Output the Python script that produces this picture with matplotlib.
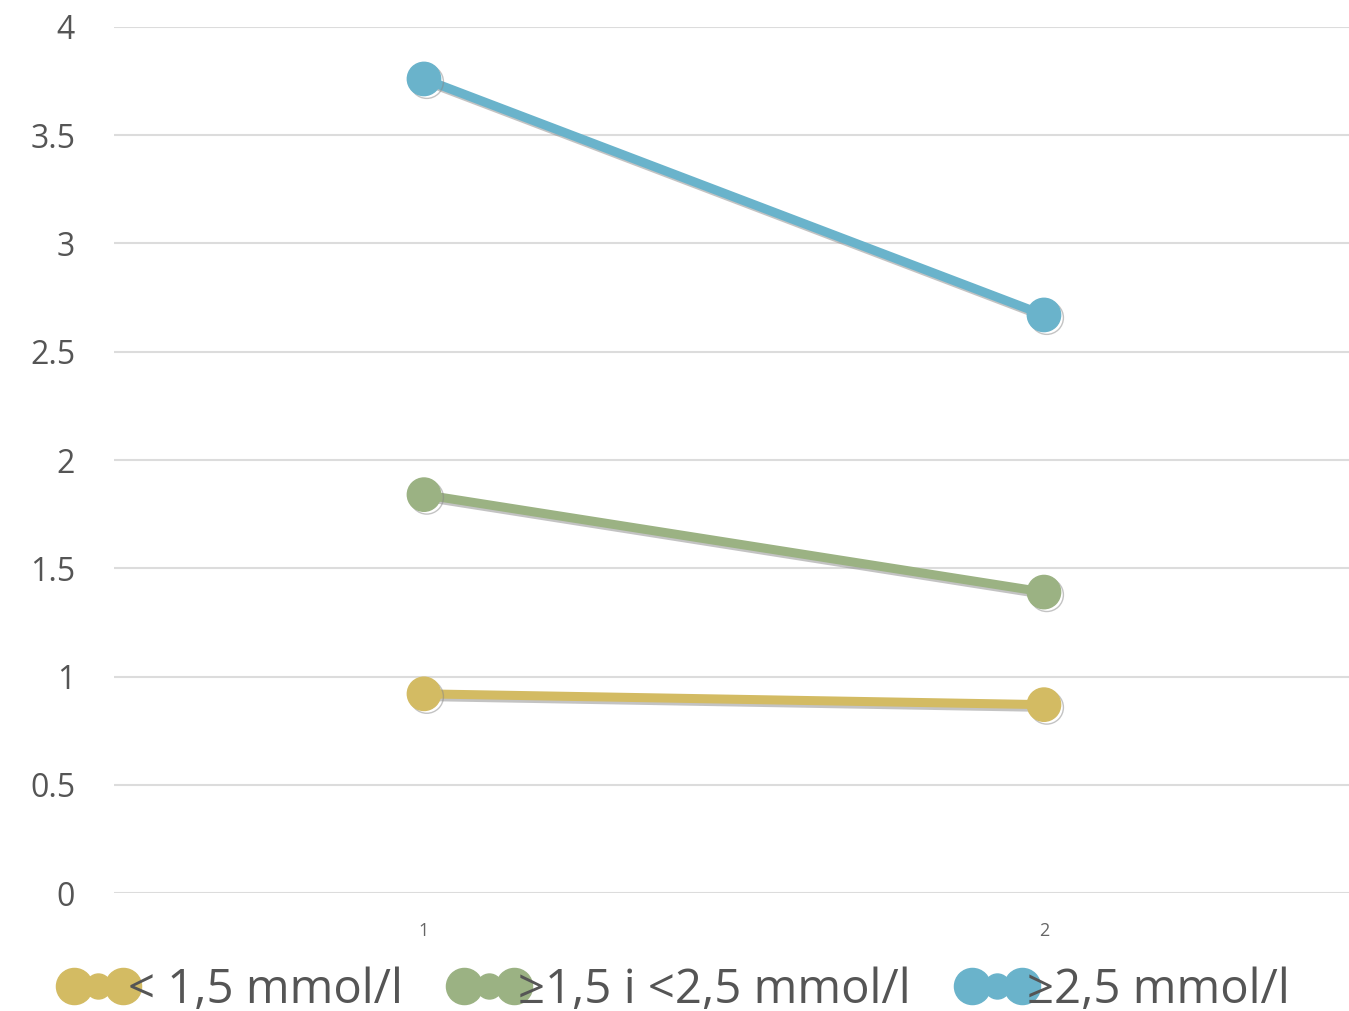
import matplotlib
matplotlib.use("Agg")
import matplotlib.pyplot as plt
import matplotlib.patheffects as pe
from matplotlib.lines import Line2D
from matplotlib.legend_handler import HandlerLine2D, HandlerTuple

categories = [1, 2]
series_names = ["< 1,5 mmol/l", "≥1,5 i <2,5 mmol/l", "≥2,5 mmol/l"]
low_vals = [0.92, 0.87]
mid_vals = [1.84, 1.39]
high_vals = [3.76, 2.67]
colors = ["#D3BB63", "#9BB283", "#6AB3CB"]
yticks = [0, 0.5, 1, 1.5, 2, 2.5, 3, 3.5, 4]
ytick_labels = ["0", "0.5", "1", "1.5", "2", "2.5", "3", "3.5", "4"]

plt.rcParams['font.family'] = ['Open Sans', 'DejaVu Sans']

fig = plt.figure(figsize=(13.49, 10.11), dpi=100)
ax = fig.add_axes([0.0845, 0.1167, 0.9155, 0.8566])

shadow = [pe.SimpleLineShadow(offset=(2, -2), shadow_color='#888888', alpha=0.5), pe.Normal()]
for vals, name, c in zip([low_vals, mid_vals, high_vals], series_names, colors):
    ax.plot(categories, vals, color=c, lw=6.5, marker='o', markersize=24,
            markerfacecolor=c, markeredgecolor=c, solid_capstyle='round',
            path_effects=shadow, zorder=3)

ax.set_xlim(0.5, 2.492)
ax.set_ylim(0, 4)
ax.set_yticks(yticks)
ax.set_yticklabels(ytick_labels, fontsize=23, color='#555555')
ax.set_xticks(categories)
ax.set_xticklabels([str(c) for c in categories], fontsize=13, color='#666666')
ax.tick_params(axis='both', length=0)
ax.tick_params(axis='y', pad=28)
ax.tick_params(axis='x', pad=21)
ax.yaxis.grid(True, color='#DCDCDC', lw=1.5)
ax.set_axisbelow(True)
for s in ax.spines.values():
    s.set_visible(False)

handles = []
hmap = {tuple: HandlerTuple(ndivide=1, pad=0)}
for c in colors:
    big = Line2D([], [], ls='none', marker='o', markersize=26, color=c)
    small = Line2D([], [], ls='none', marker='o', markersize=18, color=c)
    hmap[big] = HandlerLine2D(numpoints=2)
    hmap[small] = HandlerLine2D(numpoints=1)
    handles.append((big, small))

leg = fig.legend(handles, series_names, handler_map=hmap,
                 loc='center', bbox_to_anchor=(0.5, 0.021), ncol=3, frameon=False,
                 fontsize=34, handlelength=1.65, handletextpad=-0.2,
                 columnspacing=1.0, labelcolor='#555555')

fig.savefig("out.png", dpi=100, facecolor='white')
